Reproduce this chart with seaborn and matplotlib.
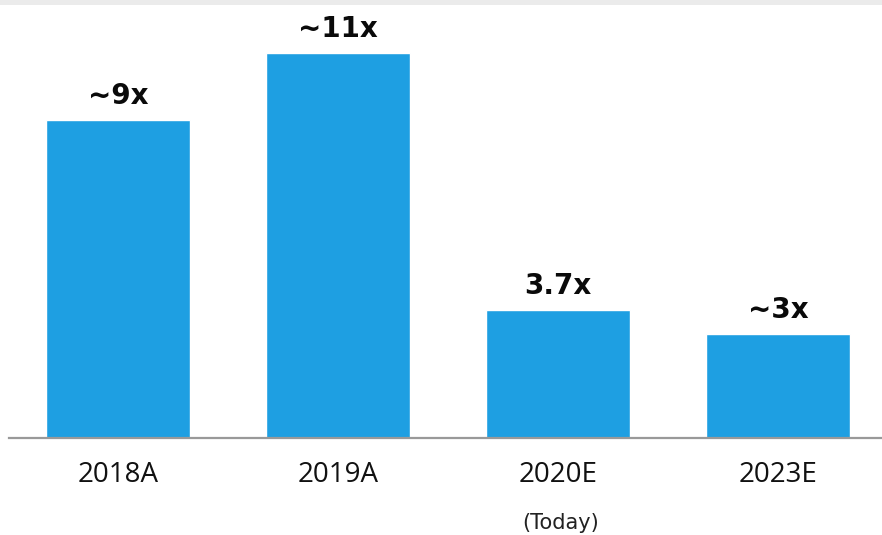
import matplotlib
matplotlib.use("Agg")
import matplotlib.pyplot as plt
import seaborn as sns
from matplotlib.patches import Rectangle

categories = ["2018A", "2019A", "2020E", "2023E"]
values = [9.2, 11.15, 3.7, 3.0]
bar_labels = ["~9x", "~11x", "3.7x", "~3x"]
note_text = "(Today)"
note_index = 2

sns.set_theme(style="white")
plt.rcParams["font.family"] = ["DejaVu Sans"]

fig = plt.figure(figsize=(8.82, 5.35), dpi=100)
ax = fig.add_axes([9 / 882, 97.5 / 535, 873 / 882, 432.5 / 535])

sns.barplot(x=categories, y=values, color="#1E9FE2", saturation=1,
            width=0.655, ax=ax)

ax.set_xlim(-0.498, 3.473)
ax.set_ylim(0, 12.54)

for i, (v, lab) in enumerate(zip(values, bar_labels)):
    ax.annotate(lab, xy=(i, v), xytext=(0, 11.5), textcoords="offset points",
                ha="center", va="baseline", fontsize=20, fontweight="bold",
                color="#0a0a0a")

ax.annotate(note_text, xy=(note_index + 0.012, -0.2127),
            xycoords=("data", "axes fraction"),
            ha="center", va="baseline", fontsize=15, color="#222222")

for s in ["top", "right", "left"]:
    ax.spines[s].set_visible(False)
ax.spines["bottom"].set_color("#999999")
ax.spines["bottom"].set_linewidth(1.6)
ax.set_yticks([])
ax.set_xlabel("")
ax.set_ylabel("")
ax.tick_params(axis="x", length=0, pad=17, labelsize=20, colors="#111111")
for t in ax.get_xticklabels():
    t.set_fontfamily("Open Sans")

fig.add_artist(Rectangle((0, 1 - 5 / 535), 1, 5 / 535, transform=fig.transFigure,
                         color="#EBEBEB", lw=0))

fig.savefig("out.png", dpi=100)
